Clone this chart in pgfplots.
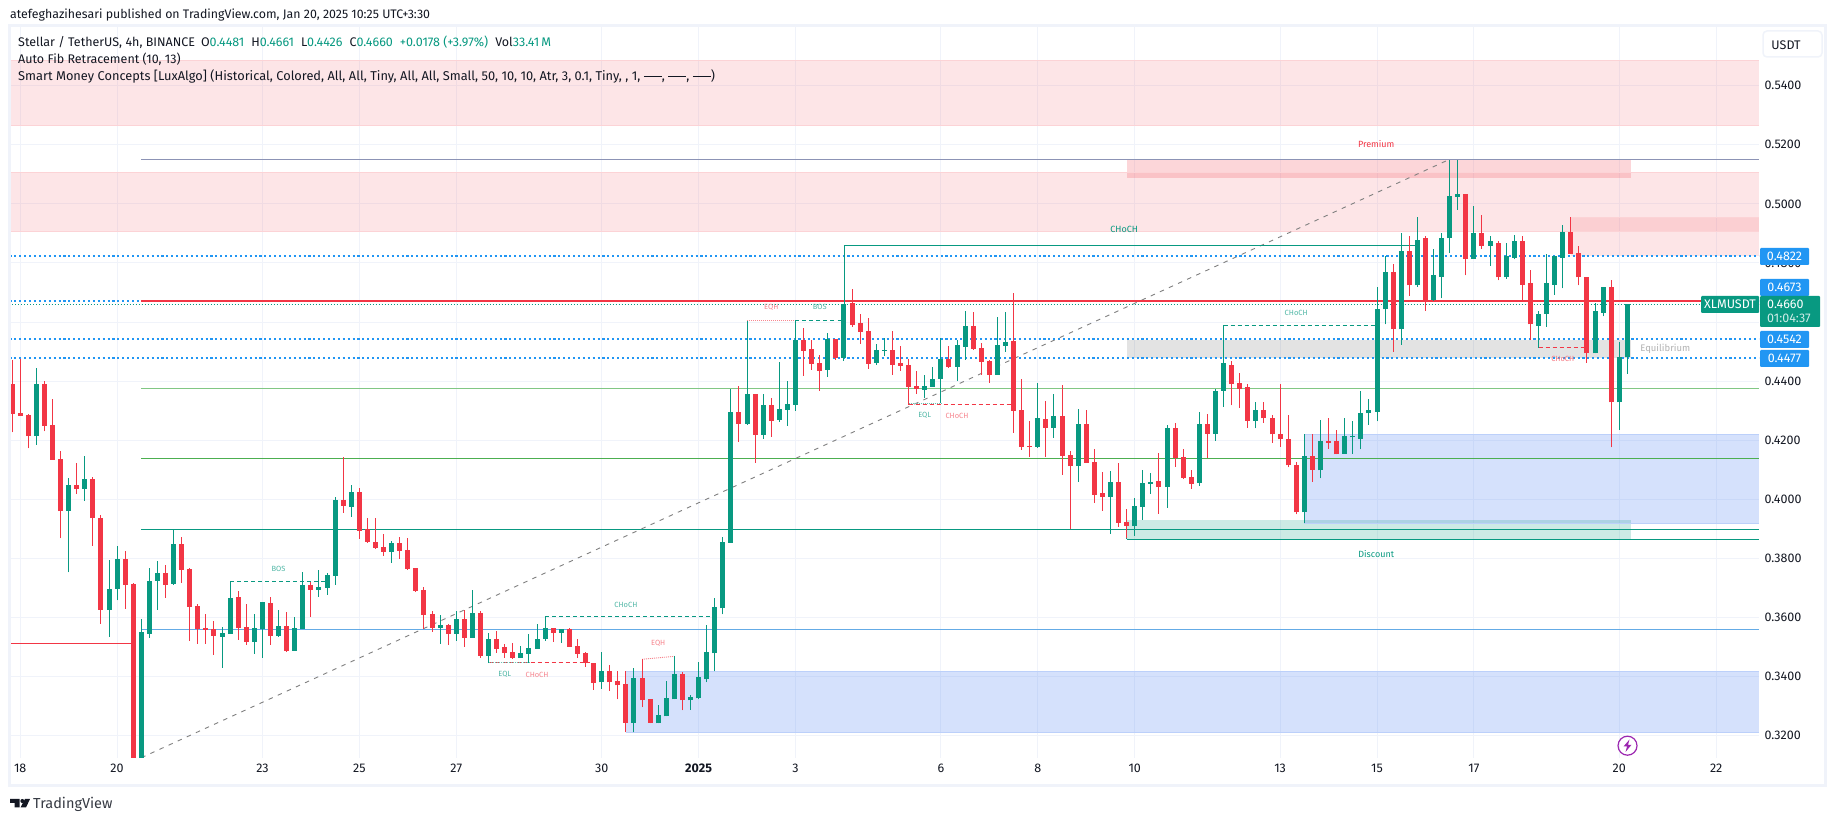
\documentclass[border=0pt]{standalone}
\usepackage{fontspec}
\setmainfont{Fira Sans}
\usepackage{pgfplots}
\usepackage{pgfplotstable}
\pgfplotsset{compat=1.18}

\definecolor{tvgreen}{HTML}{089981}
\definecolor{tvred}{HTML}{F23645}
\definecolor{tvblue}{HTML}{2196F3}
\definecolor{tvink}{HTML}{131722}
\definecolor{tvgrid}{HTML}{F0F3FA}
\definecolor{zoneblue}{HTML}{2F6CF0}
\definecolor{purple2}{HTML}{9C27B0}
\definecolor{fibtop}{HTML}{8C93B5}
\definecolor{fibgreenl}{HTML}{81C784}
\definecolor{fibgreen}{HTML}{4CAF50}
\definecolor{fibblue}{HTML}{64ABE6}

% candles: bar number (4h bars, 0 = first bar on screen), body top, body bottom, high, low
\pgfplotstableread{
i top bot h l
0 .4392 .4290 .4472 .4227
1 .4292 .4283 .4474 .4283
2 .4287 .4214 .4290 .4173
4 .4390 .4250 .4400 .4230
5 .4253 .4135 .4340 .4135
6 .4137 .3960 .4165 .3868
8 .4050 .4036 .4123 .4020
10 .4070 .3936 .4077 .3844
11 .3938 .3627 .3948 .3580
14 .3800 .3712 .3827 .3630
15 .3715 .3100 .3718 .3100
19 .3752 .3712 .3779 .3668
21 .3850 .3762 .3874 .3718
22 .3766 .3637 .3769 .3522
23 .3640 .3563 .3647 .3512
24 .3566 .3559 .3613 .3512
25 .3563 .3539 .3587 .3475
28 .3671 .3566 .3691 .3525
29 .3569 .3519 .3647 .3509
32 .3651 .3539 .3671 .3509
34 .3573 .3488 .3620 .3485
37 .3712 .3695 .3719 .3603
41 .3999 .3979 .4145 .3955
43 .4026 .3894 .4040 .3867
44 .3900 .3857 .3938 .3853
45 .3857 .3837 .3938 .3833
46 .3840 .3823 .3884 .3810
48 .3854 .3827 .3874 .3800
49 .3830 .3766 .3871 .3762
50 .3769 .3691 .3769 .3688
51 .3695 .3610 .3705 .3563
52 .3613 .3566 .3624 .3553
54 .3576 .3546 .3580 .3509
56 .3597 .3532 .3627 .3502
58 .3617 .3471 .3624 .3465
60 .3529 .3495 .3556 .3481
61 .3502 .3481 .3512 .3465
62 .3485 .3465 .3515 .3461
67 .3566 .3549 .3566 .3519
69 .3560 .3502 .3566 .3502
70 .3505 .3478 .3529 .3465
71 .3481 .3447 .3485 .3434
72 .3447 .3380 .3447 .3356
74 .3418 .3381 .3441 .3353
75 .3384 .3371 .3418 .3323
76 .3374 .3245 .3418 .3212
78 .3394 .3320 .3459 .3296
79 .3323 .3245 .3323 .3242
83 .3408 .3320 .3415 .3286
90 .4296 .4256 .4384 .4195
92 .4357 .4218 .4357 .4124
94 .4320 .4266 .4344 .4212
98 .4540 .4503 .4580 .4418
99 .4509 .4459 .4540 .4438
100 .4462 .4435 .4489 .4367
102 .4543 .4479 .4543 .4472
104 .4665 .4591 .4712 .4584
105 .4597 .4567 .4628 .4526
106 .4570 .4459 .4614 .4442
109 .4506 .4455 .4570 .4421
110 .4462 .4452 .4520 .4435
111 .4455 .4381 .4476 .4320
112 .4384 .4374 .4435 .4357
116 .4476 .4449 .4520 .4445
119 .4587 .4509 .4635 .4506
120 .4513 .4465 .4530 .4421
121 .4469 .4421 .4472 .4394
124 .4536 .4300 .4699 .4225
125 .4303 .4178 .4408 .4168
126 .4181 .4178 .4266 .4144
128 .4273 .4242 .4333 .4144
130 .4283 .4147 .4388 .4083
131 .4151 .4113 .4164 .3899
133 .4256 .4124 .4303 .4124
134 .4127 .4015 .4171 .3988
135 .4022 .4009 .4093 .3961
137 .4059 .3921 .4124 .3907
138 .3924 .3910 .3968 .3869
142 .4063 .4042 .4157 .3951
144 .4242 .4141 .4259 .4110
145 .4144 .4073 .4171 .4069
146 .4076 .4053 .4100 .4036
148 .4256 .4222 .4289 .4141
151 .4456 .4392 .4470 .4318
152 .4395 .4375 .4429 .4311
153 .4379 .4267 .4392 .4243
155 .4301 .4274 .4328 .4260
156 .4277 .4220 .4284 .4192
157 .4223 .4203 .4392 .4179
158 .4206 .4115 .4284 .4108
159 .4118 .3956 .4125 .3949
161 .4148 .4101 .4220 .4060
163 .4196 .4192 .4277 .4172
164 .4196 .4152 .4236 .4152
171 .4768 .4575 .4795 .4500
173 .4842 .4724 .4890 .4690
175 .4883 .4676 .4891 .4639
180 .5035 .4815 .5035 .4758
182 .4903 .4859 .4961 .4849
184 .4869 .4751 .4876 .4741
187 .4876 .4727 .4893 .4673
188 .4731 .4592 .4775 .4541
193 .4906 .4832 .4954 .4829
194 .4835 .4751 .4859 .4724
195 .4754 .4494 .4754 .4463
198 .4720 .4328 .4744 .4176
}\redbars
\pgfplotstableread{
i top bot h l
3 .4392 .4214 .4443 .4185
7 .4050 .3960 .4073 .3753
9 .4070 .4036 .4148 .3996
12 .3698 .3627 .3796 .3536
13 .3800 .3698 .3844 .3658
16 .3550 .3100 .3597 .3100
17 .3725 .3546 .3769 .3532
18 .3752 .3725 .3793 .3627
20 .3850 .3715 .3900 .3712
26 .3549 .3536 .3569 .3431
27 .3668 .3546 .3668 .3546
30 .3566 .3519 .3613 .3478
31 .3652 .3563 .3654 .3465
33 .3573 .3539 .3627 .3536
35 .3566 .3488 .3603 .3488
36 .3712 .3563 .3756 .3563
38 .3705 .3695 .3762 .3671
39 .3745 .3701 .3752 .3678
40 .3999 .3742 .4009 .3712
42 .4026 .3975 .4050 .3942
47 .3854 .3823 .3860 .3786
53 .3576 .3566 .3610 .3512
55 .3597 .3546 .3624 .3522
57 .3617 .3532 .3695 .3532
59 .3529 .3471 .3549 .3446
63 .3481 .3465 .3505 .3465
64 .3498 .3478 .3546 .3447
65 .3529 .3495 .3580 .3495
66 .3566 .3529 .3603 .3522
68 .3560 .3549 .3563 .3515
73 .3418 .3381 .3485 .3360
77 .3394 .3245 .3428 .3212
80 .3269 .3242 .3303 .3242
81 .3327 .3266 .3384 .3266
82 .3408 .3323 .3469 .3323
84 .3330 .3320 .3337 .3289
85 .3398 .3327 .3449 .3323
86 .3482 .3391 .3574 .3381
87 .3635 .3479 .3665 .3418
88 .3856 .3631 .3873 .3611
89 .4296 .3853 .4374 .3853
91 .4357 .4256 .4357 .4252
93 .4320 .4218 .4357 .4205
95 .4306 .4269 .4465 .4262
96 .4323 .4303 .4401 .4249
97 .4540 .4320 .4548 .4300
101 .4543 .4438 .4564 .4415
103 .4662 .4479 .4662 .4469
107 .4506 .4462 .4526 .4455
108 .4506 .4503 .4547 .4486
113 .4384 .4371 .4421 .4344
114 .4408 .4381 .4449 .4381
115 .4476 .4408 .4547 .4327
117 .4523 .4449 .4540 .4401
118 .4587 .4516 .4638 .4472
122 .4523 .4421 .4618 .4421
123 .4533 .4520 .4635 .4499
127 .4276 .4178 .4394 .4174
129 .4283 .4242 .4357 .4208
132 .4256 .4113 .4306 .4059
136 .4059 .4009 .4097 .3883
139 .3978 .3910 .4005 .3877
140 .4056 .3975 .4100 .3931
141 .4058 .4053 .4090 .4019
143 .4242 .4042 .4252 .3971
147 .4256 .4056 .4296 .4046
149 .4367 .4222 .4374 .4198
150 .4462 .4367 .4470 .4313
154 .4301 .4267 .4328 .4240
160 .4148 .3956 .4220 .3919
162 .4196 .4098 .4270 .4071
165 .4213 .4155 .4274 .4155
166 .4213 .4210 .4264 .4155
167 .4294 .4206 .4368 .4169
168 .4301 .4291 .4341 .4253
169 .4643 .4297 .4720 .4264
170 .4768 .4643 .4822 .4592
172 .4842 .4575 .4903 .4524
174 .4879 .4724 .4954 .4720
176 .4758 .4676 .4849 .4673
177 .4886 .4754 .4903 .4680
178 .5028 .4883 .5149 .4835
179 .5035 .5025 .5147 .4981
181 .4903 .4815 .4994 .4815
183 .4873 .4859 .4893 .4791
185 .4825 .4751 .4869 .4747
186 .4876 .4818 .4896 .4812
189 .4629 .4588 .4639 .4513
190 .4731 .4629 .4829 .4585
191 .4822 .4727 .4822 .4693
192 .4906 .4818 .4927 .4714
196 .4636 .4494 .4663 .4494
197 .4720 .4632 .4720 .4619
199 .4481 .4328 .4531 .4236
200 .4660 .4481 .4661 .4426
}\greenbars

% zone: x1 x2 low high, style
\newcommand{\zone}[5]{\addplot[#5] coordinates {(#1,#3)(#2,#3)(#2,#4)(#1,#4)} -- cycle;}
\newcommand{\hl}[4]{\addplot[#4] coordinates {(#1,#3)(#2,#3)};}
\newcommand{\vl}[4]{\addplot[#4] coordinates {(#1,#2)(#1,#3)};}
\newcommand{\swatch}{\rule[3.4pt]{18pt}{.8pt}}
\tikzset{
  redzone/.style={fill=tvred,fill opacity=.125,draw=none},
  bluezone/.style={fill=zoneblue,fill opacity=.2,draw=none},
  tag/.style={font=\fontsize{7.5}{9}\selectfont,inner sep=0pt},
  pricebox/.style={fill=tvblue,text=white,font=\fontsize{12.5}{14}\selectfont,inner sep=0pt,rounded corners=1pt},
  pricedots/.style={tvblue,line width=2pt,dash pattern=on 2.1pt off 2.8pt},
}

\begin{document}
\begin{tikzpicture}[x=1pt,y=1pt]
\path[use as bounding box] (0,0) rectangle (1835,821);
\fill[white] (0,0) rectangle (1835,821);
\begin{axis}[
  at={(9.5pt,63.3pt)}, anchor=south west,
  scale only axis, width=1749.5pt, height=731.7pt,
  xmin=-0.32, xmax=216.3, ymin=0.3126, ymax=0.5602,
  axis line style={draw=none}, tick style={draw=none},
  no markers,
  grid=major, grid style={tvgrid,line width=1pt},
  ytick={0.32,0.34,0.36,0.38,0.40,0.42,0.44,0.46,0.48,0.50,0.52,0.54},
  yticklabel pos=right,
  scaled y ticks=false,
  /pgf/number format/.cd, fixed, fixed zerofill, precision=4, assume math mode=true,
  /pgfplots/.cd,
  xtick={1,13,31,43,55,73,85,97,115,127,139,157,169,181,199,211},
  xticklabels={18,20,23,25,27,30,\textbf{2025},3,6,8,10,13,15,17,20,22},
  tick label style={font=\fontsize{12.5}{14}\selectfont,text=tvink},
  y tick label style={xshift=2pt},
  x tick label style={yshift=-3pt},
]
% zones
\zone{-0.32}{216.3}{.5264}{.5486}{redzone}
\zone{-0.32}{216.3}{.4906}{.5107}{redzone}
\zone{193}{216.3}{.4822}{.4954}{redzone}
\zone{138}{200.5}{.5086}{.5151}{fill=tvred,fill opacity=.2,draw=none}
\zone{138}{200.5}{.4477}{.4541}{fill=black,fill opacity=.11,draw=none}
\zone{160}{216.3}{.3919}{.4220}{bluezone}
\zone{76}{216.3}{.3213}{.3417}{bluezone}
\zone{138}{200.5}{.3866}{.3932}{fill=tvgreen,fill opacity=.2,draw=none}
\hl{-0.32}{216.3}{.5486}{tvred!22,line width=.8pt}
\hl{-0.32}{216.3}{.5264}{tvred!22,line width=.8pt}
\hl{-0.32}{216.3}{.5107}{tvred!22,line width=.8pt}
\hl{-0.32}{216.3}{.4906}{tvred!22,line width=.8pt}
\hl{193}{216.3}{.4954}{tvred!22,line width=.8pt}
\hl{160}{216.3}{.4220}{zoneblue!32,line width=.8pt}
\hl{160}{216.3}{.3919}{zoneblue!32,line width=.8pt}
\hl{76}{216.3}{.3417}{zoneblue!32,line width=.8pt}
\hl{76}{216.3}{.3213}{zoneblue!32,line width=.8pt}
% auto fib
\hl{16}{216.3}{.5151}{fibtop,line width=.9pt}
\hl{16}{216.3}{.4377}{fibgreenl,line width=.9pt}
\hl{16}{216.3}{.4139}{fibgreen,line width=.9pt}
\hl{16}{216.3}{.3898}{tvgreen,line width=.9pt}
\hl{16}{216.3}{.3560}{fibblue,line width=.9pt}
\hl{-0.32}{15}{.3511}{tvred,line width=.9pt}
\addplot[gray,line width=.9pt,dash pattern=on 4.5pt off 5.5pt] coordinates {(16,.3126)(178,.5151)};
% price lines
\hl{-0.32}{216.3}{.4822}{pricedots}
\hl{-0.32}{216.3}{.4673}{pricedots}
\hl{-0.32}{216.3}{.4542}{pricedots}
\hl{-0.32}{216.3}{.4477}{pricedots}
\hl{-0.32}{216.3}{.4660}{tvgreen,line width=.9pt,dash pattern=on 1pt off 2pt}
\hl{16}{216.3}{.4671}{tvred,line width=1.3pt}
\hl{138}{216.3}{.3866}{tvgreen,line width=.9pt}
% market structure
\vl{27}{.3546}{.3723}{tvgreen,line width=.9pt}
\hl{27}{39}{.3723}{tvgreen,line width=.9pt,dash pattern=on 4pt off 3pt}
\vl{59}{.3471}{.3447}{tvgreen,line width=.9pt}
\hl{59}{71.5}{.3447}{tvred,line width=.9pt,dash pattern=on 4pt off 3pt}
\hl{59}{64}{.3448}{tvgreen!60,line width=.9pt,dash pattern=on 1pt off 1pt}
\vl{66}{.3566}{.3603}{tvgreen,line width=.9pt}
\hl{66}{87}{.3603}{tvgreen,line width=.9pt,dash pattern=on 4pt off 3pt}
\addplot[tvred!60,line width=.9pt,dash pattern=on 1pt off 1pt] coordinates {(78,.3459)(82,.3469)};
\vl{91}{.4357}{.4606}{tvgreen,line width=.9pt}
\hl{91}{97}{.4606}{tvred!60,line width=.9pt,dash pattern=on 1pt off 1pt}
\vl{97}{.4540}{.4606}{tvgreen,line width=.9pt}
\hl{97}{103}{.4606}{tvgreen,line width=.9pt,dash pattern=on 4pt off 3pt}
\vl{103}{.4662}{.4860}{tvgreen,line width=.9pt}
\hl{103}{174}{.4860}{tvgreen,line width=.9pt}
\vl{111}{.4381}{.4322}{tvred,line width=.9pt}
\hl{111}{124}{.4322}{tvred,line width=.9pt,dash pattern=on 4pt off 3pt}
\hl{111}{115}{.4324}{tvgreen!60,line width=.9pt,dash pattern=on 1pt off 1pt}
\vl{138}{.3910}{.3866}{tvgreen,line width=.9pt}
\vl{150}{.4462}{.4590}{tvgreen,line width=.9pt}
\hl{150}{169}{.4590}{tvgreen,line width=.9pt,dash pattern=on 4pt off 3pt}
\vl{189}{.4588}{.4513}{tvgreen,line width=.9pt}
\hl{189}{195}{.4513}{tvred,line width=.9pt,dash pattern=on 4pt off 3pt}
% candles
\addplot[draw=none,error bars/.cd,y dir=plus,y explicit,error mark=none,error bar style={tvred,line width=1pt}]
  table[x=i,y=l,y error plus expr=\thisrow{h}-\thisrow{l}] {\redbars};
\addplot[draw=none,error bars/.cd,y dir=plus,y explicit,error mark=none,error bar style={tvgreen,line width=1pt}]
  table[x=i,y=l,y error plus expr=\thisrow{h}-\thisrow{l}] {\greenbars};
\addplot[draw=none,error bars/.cd,y dir=plus,y explicit,error mark=none,error bar style={tvred,line width=5pt}]
  table[x=i,y=bot,y error plus expr={max(\thisrow{top}-\thisrow{bot},0.0004)}] {\redbars};
\addplot[draw=none,error bars/.cd,y dir=plus,y explicit,error mark=none,error bar style={tvgreen,line width=5pt}]
  table[x=i,y=bot,y error plus expr={max(\thisrow{top}-\thisrow{bot},0.0004)}] {\greenbars};
% labels
\node[tag,text=tvgreen!70] at (axis cs:33,.3765) {BOS};
\node[tag,text=tvgreen!70] at (axis cs:61,.3408) {EQL};
\node[tag,text=tvred!60] at (axis cs:65,.3405) {CHoCH};
\node[tag,text=tvgreen!70] at (axis cs:76,.3644) {CHoCH};
\node[tag,text=tvred!60] at (axis cs:80,.3512) {EQH};
\node[tag,text=tvred!60] at (axis cs:94,.4650) {EQH};
\node[tag,text=tvgreen!70] at (axis cs:100,.4650) {BOS};
\node[tag,text=tvgreen!70] at (axis cs:113,.4284) {EQL};
\node[tag,text=tvred!60] at (axis cs:117,.4284) {CHoCH};
\node[tag,text=tvgreen!70] at (axis cs:159,.4630) {CHoCH};
\node[tag,text=tvred!70] at (axis cs:192,.4476) {CHoCH};
\node[tag,text=tvgreen,font=\fontsize{9}{11}\selectfont] at (axis cs:137.7,.4913) {CHoCH};
\node[tag,text=tvred,font=\fontsize{9}{11}\selectfont] at (axis cs:168.9,.5202) {Premium};
\node[tag,text=tvgreen,font=\fontsize{9}{11}\selectfont] at (axis cs:168.9,.3816) {Discount};
\node[tag,text=black!30,font=\fontsize{9.5}{11}\selectfont] at (axis cs:204.7,.4508) {Equilibrium};
\end{axis}
% page furniture, in image pixels from the top left
\begin{scope}[y=-1pt,shift={(0,821pt)}]
\draw[tvgrid,line width=3pt] (9.5,26) rectangle (1825,786);
\node[anchor=west,inner sep=0pt,text=tvink,font=\fontsize{12.36}{14}\selectfont] at (10,14.7)
  {atefeghazihesari published on TradingView.com, Jan 20, 2025 10:25 UTC+3:30};
\node[anchor=west,inner sep=0pt,text=tvink,font=\fontsize{12.5}{14}\selectfont] at (18,42)
  {Stellar / TetherUS, 4h, BINANCE\hspace{6pt}O\textcolor{tvgreen}{0.4481}\hspace{7pt}H\textcolor{tvgreen}{0.4661}\hspace{7pt}L\textcolor{tvgreen}{0.4426}\hspace{7pt}C\textcolor{tvgreen}{0.4660}\hspace{7pt}\textcolor{tvgreen}{+0.0178 (+3.97\%)}\hspace{7pt}Vol\textcolor{tvgreen}{33.41\,M}};
\node[anchor=west,inner sep=0pt,text=tvink,font=\fontsize{12.5}{14}\selectfont] at (18,59)
  {Auto Fib Retracement (10, 13)};
\node[anchor=west,inner sep=0pt,text=tvink,font=\fontsize{12.8}{14}\selectfont] at (18,76)
  {Smart Money Concepts [LuxAlgo] (Historical, Colored, All, All, Tiny, All, All, Small, 50, 10, 10, Atr, 3, 0.1, Tiny, , 1, \swatch, \swatch, \swatch)};
% USDT button
\draw[tvgrid,line width=1.5pt,fill=white,rounded corners=4pt] (1763,31) rectangle (1822,57);
\node[text=tvink,font=\fontsize{12.5}{14}\selectfont] at (1786,45) {USDT};
% price scale tags
\node[pricebox,minimum width=49pt,minimum height=17pt] at (1784.5,256.5) {0.4822};
\node[pricebox,minimum width=49pt,minimum height=17pt] at (1784.5,287.5) {0.4673};
\node[pricebox,minimum width=49pt,minimum height=17pt] at (1784.5,339.5) {0.4542};
\node[pricebox,minimum width=49pt,minimum height=17pt] at (1784.5,358.5) {0.4477};
\fill[tvgreen,rounded corners=1pt] (1760,296) rectangle (1820,327);
\fill[tvgreen,rounded corners=1pt] (1701,296) rectangle (1759,313);
\node[text=white,font=\fontsize{12.5}{14}\selectfont] at (1730,304.5) {XLMUSDT};
\node[anchor=west,inner sep=0pt,text=white,font=\fontsize{12.5}{14}\selectfont] at (1767,304.5) {0.4660};
\node[anchor=west,inner sep=0pt,text=white!80!tvgreen,font=\fontsize{12.5}{14}\selectfont] at (1767,318.5) {01:04:37};
% lightning
\draw[purple2,line width=1.2pt] (1627.5,745.7) circle (9.5);
\fill[purple2] (1629.5,739.5) -- (1623.5,746.5) -- (1627,746.5) -- (1625.5,752) -- (1631.5,744.8) -- (1628,744.8) -- cycle;
% logo
\fill[tvink] (10,799) -- (19.5,799) -- (19.5,807.5) -- (14.5,807.5) -- (14.5,803) -- (10,803) -- cycle;
\fill[tvink] (22.3,801) circle (2);
\fill[tvink] (25,799) -- (30,799) -- (26,807.5) -- (20.5,807.5) -- cycle;
\node[anchor=west,inner sep=0pt,text=tvink!85,font=\fontsize{14.5}{16}\selectfont] at (33,804) {TradingView};
\end{scope}
\end{tikzpicture}
\end{document}
